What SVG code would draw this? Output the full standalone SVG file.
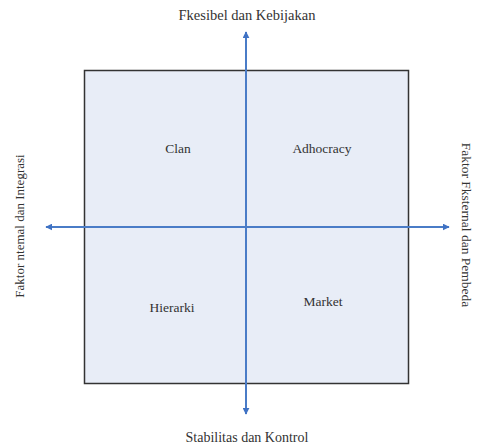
<svg xmlns="http://www.w3.org/2000/svg" width="477" height="447" viewBox="0 0 477 447">
<style>
text{font-family:"Liberation Serif","Times New Roman",serif;font-size:13.5px;fill:#333;}
.ax{stroke:#4a7cc7;stroke-width:2;fill:none;}
</style>
<defs>
<marker id="ah" viewBox="0 0 10 10" refX="9" refY="5" markerWidth="7" markerHeight="7" markerUnits="userSpaceOnUse" orient="auto"><path d="M0,0 L10,5 L0,10 z" fill="#3f72c4"/></marker>
</defs>
<rect width="477" height="447" fill="#fff"/>
<g id="box"><rect x="84.5" y="70.5" width="324" height="313" fill="#e8edf7" stroke="#333" stroke-width="1.5"/></g>
<g id="connectors">
<line class="ax" x1="246" y1="400" x2="246" y2="32" marker-end="url(#ah)"/>
<line class="ax" x1="246" y1="60" x2="246" y2="414" marker-end="url(#ah)"/>
<line class="ax" x1="430" y1="227" x2="46" y2="227" marker-end="url(#ah)"/>
<line class="ax" x1="60" y1="227" x2="449" y2="227" marker-end="url(#ah)"/>
</g>
<g id="top"><text x="247" y="20" text-anchor="middle" style="font-size:14.5px">Fkesibel dan Kebijakan</text></g>
<g id="bottom"><text x="247" y="442" text-anchor="middle" style="font-size:14px">Stabilitas dan Kontrol</text></g>
<g id="left"><text transform="translate(24,226) rotate(-90)" text-anchor="middle" style="font-size:13px">Faktor ntemal dan Integrasi</text></g>
<g id="right"><text transform="translate(462,225) rotate(90)" text-anchor="middle" style="font-size:13.5px">Faktor Fksternal dan Pembeda</text></g>
<g id="clan"><text x="178" y="153" text-anchor="middle">Clan</text></g>
<g id="adhocracy"><text x="322" y="153" text-anchor="middle">Adhocracy</text></g>
<g id="hierarki"><text x="172" y="312" text-anchor="middle">Hierarki</text></g>
<g id="market"><text x="323" y="306" text-anchor="middle">Market</text></g>
</svg>
